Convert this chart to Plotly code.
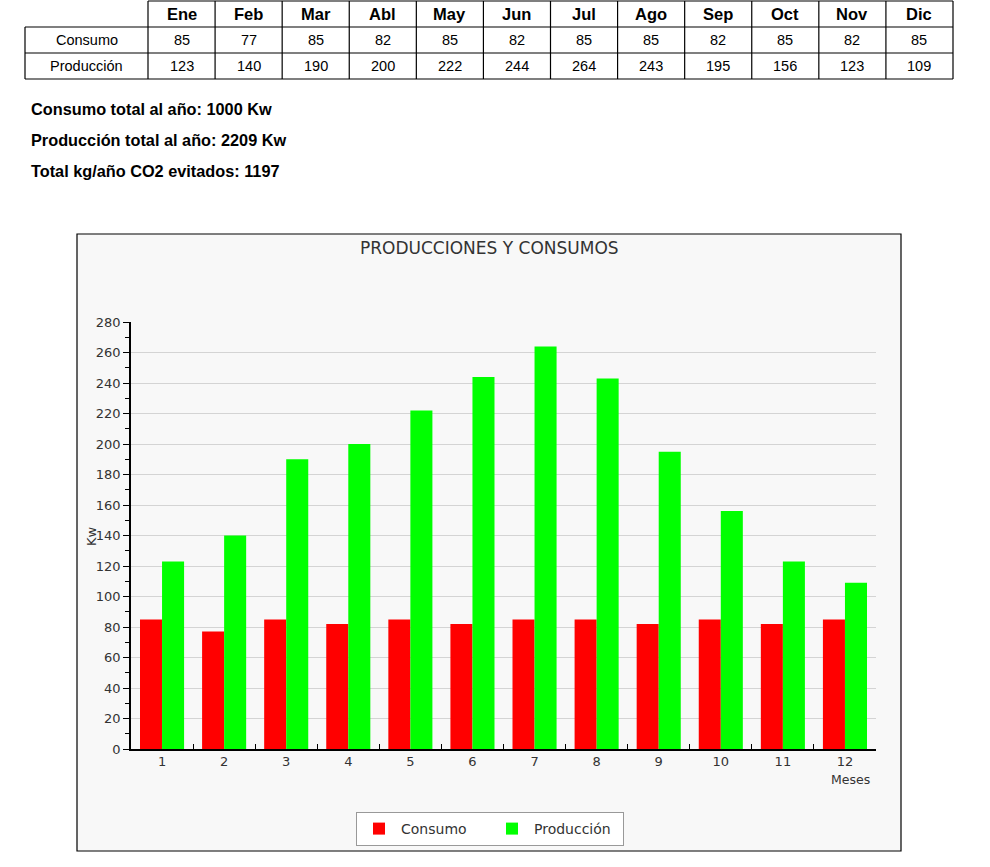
import plotly.graph_objects as go

months_short = ["Ene", "Feb", "Mar", "Abl", "May", "Jun", "Jul", "Ago", "Sep", "Oct", "Nov", "Dic"]
month_nums = ["1", "2", "3", "4", "5", "6", "7", "8", "9", "10", "11", "12"]
consumo = [85, 77, 85, 82, 85, 82, 85, 85, 82, 85, 82, 85]
produccion = [123, 140, 190, 200, 222, 244, 264, 243, 195, 156, 123, 109]
summary_lines = [
    "Consumo total al año: 1000 Kw",
    "Producción total al año: 2209 Kw",
    "Total kg/año CO2 evitados: 1197",
]
row_labels = ["Consumo", "Producción"]

W, H = 990, 867
PL, PR, PT, PB = 131, 876, 322, 749  # plot area in pixels


def px(x):
    return (x - PL) / (PR - PL)


def py(y):
    return (PB - y) / (PB - PT)


fig = go.Figure()
fig.add_trace(go.Bar(x=month_nums, y=consumo, name="Consumo",
                     marker=dict(color="#ff0000", line=dict(width=0))))
fig.add_trace(go.Bar(x=month_nums, y=produccion, name="Producción",
                     marker=dict(color="#00ff00", line=dict(width=0))))

shapes = []
annotations = []


def note(x, y, text, font, xanchor="center", **kw):
    d = dict(xref="paper", yref="paper", x=px(x), y=py(y), text=text, showarrow=False,
             xanchor=xanchor, yanchor="middle", font=font)
    d.update(kw)
    annotations.append(d)


# chart panel background
shapes.append(dict(type="rect", xref="paper", yref="paper",
                   x0=px(77), x1=px(901), y0=py(851), y1=py(234),
                   fillcolor="#f8f8f8", line=dict(color="#000000", width=1.2),
                   layer="below"))

# table
col_label_x0, col_label_x1 = 25, 148
col_w = (953 - 148) / 12
row_y = [1, 27, 53, 79]
lc = dict(color="#000000", width=1.2)
shapes.append(dict(type="line", xref="paper", yref="paper",
                   x0=px(148), x1=px(953), y0=py(row_y[0]), y1=py(row_y[0]), line=lc))
for yy in row_y[1:]:
    shapes.append(dict(type="line", xref="paper", yref="paper",
                       x0=px(col_label_x0), x1=px(953), y0=py(yy), y1=py(yy), line=lc))
shapes.append(dict(type="line", xref="paper", yref="paper",
                   x0=px(col_label_x0), x1=px(col_label_x0), y0=py(row_y[1]), y1=py(row_y[3]), line=lc))
for i in range(13):
    xx = 148 + i * col_w
    shapes.append(dict(type="line", xref="paper", yref="paper",
                       x0=px(xx), x1=px(xx), y0=py(row_y[0]), y1=py(row_y[3]), line=lc))

tfont = "Liberation Sans, Arial, sans-serif"
for i, m in enumerate(months_short):
    cx = 148 + (i + 0.5) * col_w
    note(cx, 14, "<b>%s</b>" % m, dict(family=tfont, size=16.5, color="#000"))
    for r, vals in enumerate([consumo, produccion]):
        note(cx, 40 + 26 * r, str(vals[i]), dict(family=tfont, size=14.5, color="#000"))
for r, lab in enumerate(row_labels):
    note((col_label_x0 + col_label_x1) / 2, 40 + 26 * r, lab,
         dict(family=tfont, size=14.5, color="#000"))

for k, line in enumerate(summary_lines):
    note(29, 109 + 31 * k, "<b>%s</b>" % line, dict(family=tfont, size=16.3, color="#000"),
         xanchor="left")

cfont = "DejaVu Sans, sans-serif"
note(489, 248, "PRODUCCIONES Y CONSUMOS", dict(family=cfont, size=17, color="#333333"))
note(850, 779, "Meses", dict(family=cfont, size=12.5, color="#333333"))
note(91, 536, "Kw", dict(family=cfont, size=13, color="#333333"), textangle=-90)

fig.update_layout(
    width=W, height=H,
    margin=dict(l=PL, r=W - PR, t=PT, b=H - PB, pad=0),
    paper_bgcolor="white",
    plot_bgcolor="white",
    barmode="group",
    bargap=0.29,
    bargroupgap=0,
    shapes=shapes,
    annotations=annotations,
    font=dict(family=cfont, size=13, color="#333333"),
    legend=dict(orientation="h", x=px(490), xanchor="center", y=py(812), yanchor="top",
                bgcolor="white", bordercolor="#999999", borderwidth=1,
                font=dict(family=cfont, size=14, color="#333333"),
                itemwidth=34, entrywidth=84),
    showlegend=True,
)
fig.update_xaxes(type="category", tickson="boundaries", ticks="inside", ticklen=5,
                 tickcolor="#000", showline=True, linecolor="#000", linewidth=1.5,
                 showgrid=False, tickfont=dict(family=cfont, size=13, color="#333333"),
                 range=[-0.5, 11.5])
fig.update_yaxes(range=[0, 280], dtick=20, ticks="outside", ticklen=6, tickcolor="#000",
                 showline=True, linecolor="#000", linewidth=1.5,
                 showgrid=True, gridcolor="#d4d4d4", gridwidth=1, zeroline=False,
                 minor=dict(dtick=10, ticks="outside", ticklen=4, tickcolor="#000", showgrid=False),
                 tickfont=dict(family=cfont, size=13, color="#333333"))

fig.write_html("out.html")
